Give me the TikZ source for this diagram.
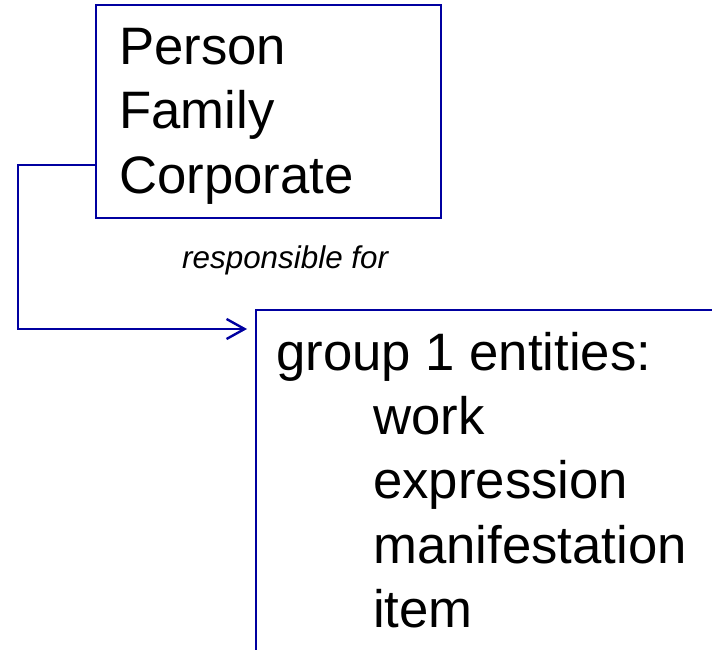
\documentclass[tikz,border=0pt]{standalone}
\usepackage{fontspec}
\setmainfont{Liberation Sans}
\usepackage{xcolor}
\usetikzlibrary{arrows.meta, positioning, calc}
\definecolor{navy}{RGB}{0,0,160}
\tikzset{
    box/.style={draw=navy, line width=2.4pt, inner sep=0pt},
    bodytext/.style={inner sep=0pt, align=left, font=\fontsize{52.7}{64.3}\selectfont},
    cuetext/.style={inner sep=0pt, font=\fontsize{31.4}{36}\selectfont\itshape},
    link/.style={navy, line width=2.4pt, -{Straight Barb[length=18pt,width=20pt]}}
}

\begin{document}
\begin{tikzpicture}[x=1pt, y=1pt]

  % Canvas of the reference, boxes run past its right and lower edge
  \useasboundingbox (0,0) rectangle (712,649);
  \clip (0,0) rectangle (712,649);

  % Agents box and its text
  \node[box, minimum width=345pt, minimum height=213pt, anchor=north west] (agents) at (95,645) {};
  \node[bodytext, anchor=north west] (agentstext) at ([shift={(24pt,-24pt)}]agents.north west)
    {Person\\Family\\Corporate};

  % Group 1 box, cut off by the canvas
  \node[box, minimum width=520pt, minimum height=420pt, anchor=north west] (entities) at (255,340) {};
  \node[bodytext, anchor=north west] (entitiestext) at ([shift={(21pt,-23pt)}]entities.north west)
    {group 1 entities:\\
     \hspace*{97pt}work\\
     \hspace*{97pt}expression\\
     \hspace*{97pt}manifestation\\
     \hspace*{97pt}item};

  % Relationship connector
  \coordinate (turn) at (18,484);
  \draw[link] (agents.west |- turn) -- (turn) |- ([shift={(-8pt,-20pt)}]entities.north west);
  \node[cuetext, anchor=base west] (relation) at (182,381) {responsible for};

\end{tikzpicture}
\end{document}
